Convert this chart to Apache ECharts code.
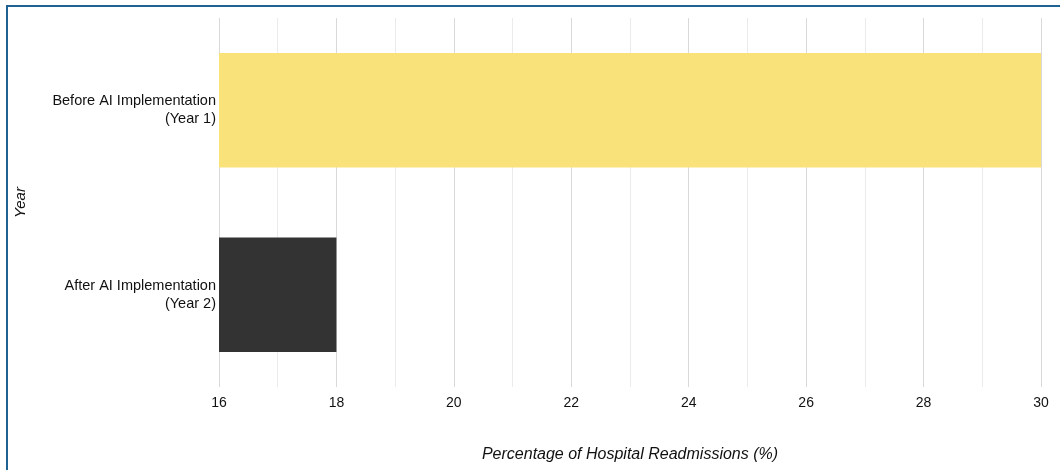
<!DOCTYPE html>
<html>
<head>
<meta charset="utf-8">
<script src="https://cdn.jsdelivr.net/npm/echarts@6/dist/echarts.min.js"></script>
<style>
html,body{margin:0;padding:0;background:#fff;}
#frame{position:absolute;left:6px;top:5px;width:1100px;height:500px;border-left:2px solid #1d6290;border-top:2px solid #1d6290;}
#chart{position:absolute;left:0;top:0;width:1060px;height:470px;}
</style>
</head>
<body>
<div id="frame"></div>
<div id="chart"></div>
<script>
const categories = ['After AI Implementation\n(Year 2)', 'Before AI Implementation\n(Year 1)'];
const values = [18, 30];
const barColors = ['#333333', '#F9E27A'];
const xMin = 16, xMax = 30;

const chart = echarts.init(document.getElementById('chart'));
chart.setOption({
  animation: false,
  textStyle: {fontFamily: 'Liberation Sans, Arial, sans-serif'},
  grid: {left: 219, right: 19, top: 18, bottom: 83, containLabel: false},
  xAxis: {
    type: 'value', min: xMin, max: xMax, interval: 1,
    name: 'Percentage of Hospital Readmissions (%)',
    nameLocation: 'middle', nameGap: 60,
    nameTextStyle: {fontStyle: 'italic', fontSize: 16, color: '#111'},
    axisLine: {show: false}, axisTick: {show: false},
    axisLabel: {fontSize: 14, color: '#111', margin: 9,
      formatter: v => (v % 2 === 0 ? String(v) : '')},
    splitLine: {show: true, lineStyle: {color: ['#d9d9d9', '#ebebeb'], width: 1}}
  },
  yAxis: {
    type: 'category', data: categories,
    name: 'Year', nameLocation: 'middle', nameGap: 191,
    nameTextStyle: {fontStyle: 'italic', fontSize: 15, color: '#111'},
    axisLine: {show: false}, axisTick: {show: false},
    axisLabel: {fontSize: 14.5, color: '#111', lineHeight: 18, margin: 3, align: 'right'},
    splitLine: {show: false}
  },
  series: [{
    type: 'bar',
    data: values.map((v, i) => ({value: v, itemStyle: {color: barColors[i]}})),
    barWidth: '62%'
  }]
});
</script>
</body>
</html>
